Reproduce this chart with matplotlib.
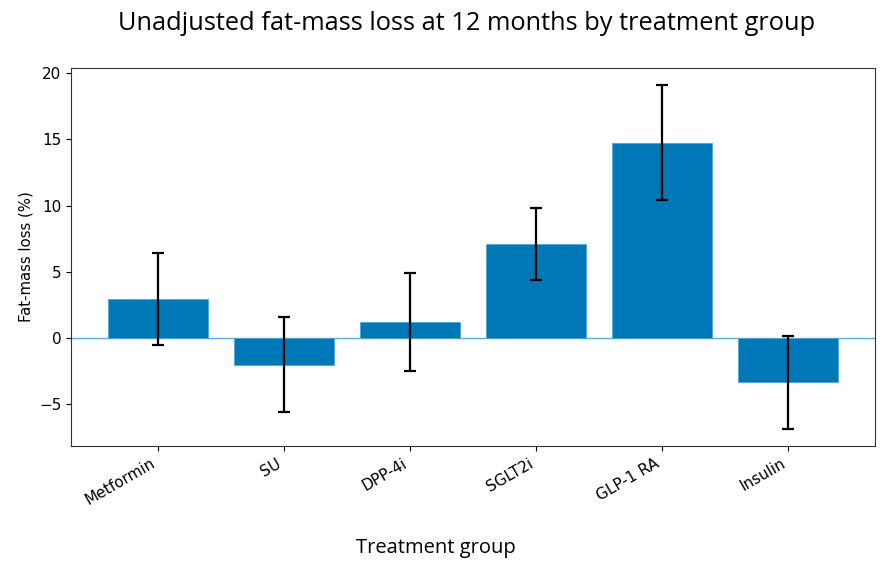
import matplotlib
matplotlib.use("Agg")
import matplotlib.pyplot as plt
import numpy as np

groups = ["Metformin", "SU", "DPP-4i", "SGLT2i", "GLP-1 RA", "Insulin"]
loss = [2.95, -2.0, 1.2, 7.1, 14.75, -3.35]
err = [3.45, 3.6, 3.7, 2.7, 4.35, 3.5]

fig = plt.figure(figsize=(8.89, 5.71), dpi=100)
ax = fig.add_axes([71/889, 1-446/571, (875-71)/889, (446-68)/571])

x = np.arange(len(groups))
ax.bar(x, loss, width=0.8, color="#0077b6", edgecolor="#4aa8dc", linewidth=0.6,
       yerr=err, capsize=4.3, error_kw=dict(ecolor="black", elinewidth=1.6, capthick=1.6), zorder=2)
ax.axhline(0, color="#5cb0e0", linewidth=1.0, zorder=1)

ax.set_xticks(x)
ax.set_xticklabels(groups, rotation=30, ha="right", fontsize=11)
ax.tick_params(axis="y", labelsize=11)
ax.set_ylabel("Fat-mass loss (%)", fontsize=10.7)
for s in ax.spines.values():
    s.set_color("#333333")

fig.text(467/889, 1-24/571, "Unadjusted fat-mass loss at 12 months by treatment group",
         ha="center", va="center", fontsize=18.3, family="Open Sans")
fig.text(436/889, 1-548/571, "Treatment group", ha="center", va="center",
         fontsize=14.5, family="Open Sans")

fig.savefig("out.png", dpi=100)
